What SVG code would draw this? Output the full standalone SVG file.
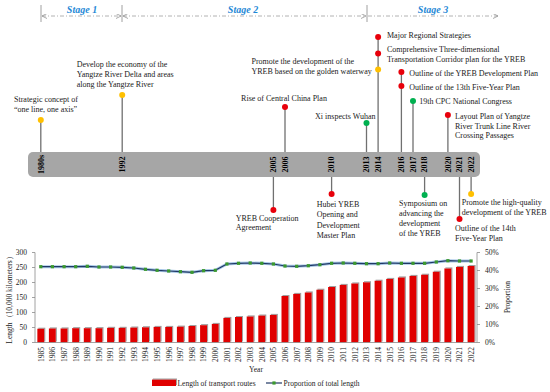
<svg xmlns="http://www.w3.org/2000/svg" xmlns:xlink="http://www.w3.org/1999/xlink" width="550" height="392" viewBox="0 0 550 392">
<style>
.lbl{font-family:"Liberation Serif","Times New Roman",serif;font-size:8px;fill:#1a1a1a}
.yr{font-family:"Liberation Serif","Times New Roman",serif;font-size:8px;font-weight:bold;fill:#000;text-anchor:middle}
.stage{font-family:"Liberation Serif","Times New Roman",serif;font-size:10px;font-weight:bold;font-style:italic;fill:#1e88d6;text-anchor:middle}
.stem{stroke:#707070;stroke-width:1.3}
.red{fill:#e8000b}.yel{fill:#ffc000}.grn{fill:#00b050}
.dash{stroke:#a0a0a0;stroke-width:0.8;stroke-dasharray:4 2 1 2;fill:none}
.tick{stroke:#a0a0a0;stroke-width:1}
.ax{stroke:#8c8c8c;stroke-width:0.8;fill:none}
.tl{font-family:"Liberation Serif","Times New Roman",serif;font-size:7.5px;fill:#222}
.xl{font-family:"Liberation Serif","Times New Roman",serif;font-size:7.5px;fill:#222;text-anchor:end}
.bar{fill:#e00000}
</style>
<defs>
<marker id="ah" viewBox="0 0 6 6" refX="6" refY="3" markerUnits="userSpaceOnUse" markerWidth="5" markerHeight="5" orient="auto-start-reverse"><path d="M0,0 L6,3 L0,6" fill="none" stroke="#999" stroke-width="1"/></marker>
<filter id="sh" x="-20%" y="-20%" width="140%" height="140%"><feFlood flood-color="#a0a0a0"/><feComposite in2="SourceAlpha" operator="in"/><feOffset dx="0.9" dy="-0.9"/><feMerge><feMergeNode/><feMergeNode in="SourceGraphic"/></feMerge></filter>
<rect id="mk" x="-1.6" y="-1.6" width="3.2" height="3.2" fill="#3c9a2e"/>
</defs>
<rect width="550" height="392" fill="#fff"/>

<!-- Stages -->
<g id="stages">
<line class="tick" x1="41" y1="5" x2="41" y2="22"/>
<line class="tick" x1="122" y1="5" x2="122" y2="22"/>
<line class="tick" x1="367" y1="5" x2="367" y2="22"/>
<line class="dash" x1="42" y1="16" x2="121" y2="16" marker-start="url(#ah)" marker-end="url(#ah)"/>
<line class="dash" x1="123" y1="16" x2="366" y2="16" marker-start="url(#ah)" marker-end="url(#ah)"/>
<line class="dash" x1="368" y1="16" x2="498" y2="16" marker-end="url(#ah)"/>
<text class="stage" x="82" y="13">Stage 1</text>
<text class="stage" x="243" y="13">Stage 2</text>
<text class="stage" x="433" y="12.5">Stage 3</text>
</g>

<!-- Timeline bar -->
<g id="timeline">
<rect x="28" y="152" width="452" height="25" rx="5" fill="#a6a6a6"/>
<text class="yr" transform="translate(43.6,164.5) rotate(-90)">1980s</text>
<text class="yr" transform="translate(125,164.5) rotate(-90)">1992</text>
<text class="yr" transform="translate(276.2,164.5) rotate(-90)">2005</text>
<text class="yr" transform="translate(287.8,164.5) rotate(-90)">2006</text>
<text class="yr" transform="translate(334.4,164.5) rotate(-90)">2010</text>
<text class="yr" transform="translate(369.3,164.5) rotate(-90)">2013</text>
<text class="yr" transform="translate(380.9,164.5) rotate(-90)">2014</text>
<text class="yr" transform="translate(404.2,164.5) rotate(-90)">2016</text>
<text class="yr" transform="translate(415.8,164.5) rotate(-90)">2017</text>
<text class="yr" transform="translate(427.4,164.5) rotate(-90)">2018</text>
<text class="yr" transform="translate(450.7,164.5) rotate(-90)">2020</text>
<text class="yr" transform="translate(462.3,164.5) rotate(-90)">2021</text>
<text class="yr" transform="translate(473.9,164.5) rotate(-90)">2022</text>
</g>

<!-- Connectors (stems) -->
<g id="connectors">
<line class="stem" x1="40.8" y1="120" x2="40.8" y2="152"/>
<line class="stem" x1="122.2" y1="95" x2="122.2" y2="152"/>
<line class="stem" x1="273.4" y1="177" x2="273.4" y2="210"/>
<line class="stem" x1="285" y1="107" x2="285" y2="152"/>
<line class="stem" x1="331.6" y1="177" x2="331.6" y2="194"/>
<line class="stem" x1="366.5" y1="123" x2="366.5" y2="152"/>
<line class="stem" x1="378.1" y1="37" x2="378.1" y2="152"/>
<line class="stem" x1="401.4" y1="72" x2="401.4" y2="152"/>
<line class="stem" x1="413" y1="101" x2="413" y2="152"/>
<line class="stem" x1="424.6" y1="177" x2="424.6" y2="195"/>
<line class="stem" x1="447.9" y1="115" x2="447.9" y2="152"/>
<line class="stem" x1="459.5" y1="177" x2="459.5" y2="219"/>
<line class="stem" x1="471.1" y1="177" x2="471.1" y2="194"/>
</g>

<!-- Events -->
<g id="ev-1980s"><circle class="yel" cx="40.8" cy="120" r="3"/>
<text class="lbl" x="14" y="102">Strategic concept of</text><text class="lbl" x="14" y="111.5">“one line, one axis”</text></g>
<g id="ev-1992"><circle class="yel" cx="122.2" cy="95" r="3"/>
<text class="lbl" x="76.7" y="67">Develop the economy of the</text><text class="lbl" x="76.7" y="77">Yangtze River Delta and areas</text><text class="lbl" x="76.7" y="87">along the Yangtze River</text></g>
<g id="ev-2005"><circle class="red" cx="273.4" cy="210" r="3"/>
<text class="lbl" x="235.7" y="220.7">YREB Cooperation</text><text class="lbl" x="235.7" y="230.3">Agreement</text></g>
<g id="ev-2006"><circle class="red" cx="285" cy="107" r="3"/>
<text class="lbl" x="284" y="101" text-anchor="middle">Rise of Central China Plan</text></g>
<g id="ev-2010"><circle class="red" cx="331.6" cy="194" r="3"/>
<text class="lbl" x="316.7" y="207">Hubei YREB</text><text class="lbl" x="316.7" y="217.3">Opening and</text><text class="lbl" x="316.7" y="227.7">Development</text><text class="lbl" x="316.7" y="238">Master Plan</text></g>
<g id="ev-2013"><circle class="grn" cx="366.5" cy="123" r="3"/>
<text class="lbl" x="375.5" y="119" text-anchor="end">Xi inspects Wuhan</text></g>
<g id="ev-2014-a"><circle class="red" cx="378.1" cy="37" r="3"/>
<text class="lbl" x="387" y="38">Major Regional Strategies</text></g>
<g id="ev-2014-b"><circle class="red" cx="378.1" cy="53.5" r="3"/>
<text class="lbl" x="387" y="52">Comprehensive Three-dimensional</text><text class="lbl" x="387" y="62">Transportation Corridor plan for the YREB</text></g>
<g id="ev-2014-c"><circle class="yel" cx="378.1" cy="69.5" r="3"/>
<text class="lbl" x="251.5" y="64">Promote the development of the</text><text class="lbl" x="251.5" y="74">YREB based on the golden waterway</text></g>
<g id="ev-2016-a"><circle class="red" cx="401.4" cy="72" r="3"/>
<text class="lbl" x="409.3" y="75.5">Outline of the YREB Development Plan</text></g>
<g id="ev-2016-b"><circle class="red" cx="401.4" cy="86" r="3"/>
<text class="lbl" x="409.3" y="90">Outline of the 13th Five-Year Plan</text></g>
<g id="ev-2017"><circle class="grn" cx="413" cy="101" r="3"/>
<text class="lbl" x="419.3" y="104">19th CPC National Congress</text></g>
<g id="ev-2018"><circle class="grn" cx="424.6" cy="195" r="3"/>
<text class="lbl" x="399" y="205.7">Symposium on</text><text class="lbl" x="399" y="216">advancing the</text><text class="lbl" x="399" y="226.3">development</text><text class="lbl" x="399" y="235.7">of the YREB</text></g>
<g id="ev-2020"><circle class="red" cx="447.9" cy="115" r="3"/>
<text class="lbl" x="455" y="119">Layout Plan of Yangtze</text><text class="lbl" x="455" y="128.5">River Trunk Line River</text><text class="lbl" x="455" y="138">Crossing Passages</text></g>
<g id="ev-2021"><circle class="red" cx="459.5" cy="219" r="3"/>
<text class="lbl" x="455" y="231.3">Outline of the 14th</text><text class="lbl" x="455" y="241.3">Five-Year Plan</text></g>
<g id="ev-2022"><circle class="yel" cx="471.1" cy="194" r="3"/>
<text class="lbl" x="461.7" y="204.7">Promote the high-quality</text><text class="lbl" x="461.7" y="214.7">development of the YREB</text></g>

<!-- Chart -->
<g id="chart">
<g filter="url(#sh)">
<rect class="bar" x="37.3" y="328.7" width="7" height="13.8"/>
<rect class="bar" x="48.9" y="328.4" width="7" height="14.1"/>
<rect class="bar" x="60.6" y="328.4" width="7" height="14.1"/>
<rect class="bar" x="72.2" y="328.1" width="7" height="14.4"/>
<rect class="bar" x="83.8" y="328.1" width="7" height="14.4"/>
<rect class="bar" x="95.5" y="328.1" width="7" height="14.4"/>
<rect class="bar" x="107.1" y="327.8" width="7" height="14.7"/>
<rect class="bar" x="118.7" y="327.8" width="7" height="14.7"/>
<rect class="bar" x="130.3" y="327.5" width="7" height="15"/>
<rect class="bar" x="142" y="327.2" width="7" height="15.3"/>
<rect class="bar" x="153.6" y="326.9" width="7" height="15.6"/>
<rect class="bar" x="165.2" y="326.9" width="7" height="15.6"/>
<rect class="bar" x="176.9" y="326.6" width="7" height="15.9"/>
<rect class="bar" x="188.5" y="326" width="7" height="16.5"/>
<rect class="bar" x="200.1" y="325.1" width="7" height="17.4"/>
<rect class="bar" x="211.8" y="323.9" width="7" height="18.6"/>
<rect class="bar" x="223.4" y="317.9" width="7" height="24.6"/>
<rect class="bar" x="235" y="317" width="7" height="25.5"/>
<rect class="bar" x="246.7" y="316.4" width="7" height="26.1"/>
<rect class="bar" x="258.3" y="315.5" width="7" height="27"/>
<rect class="bar" x="269.9" y="314.9" width="7" height="27.6"/>
<rect class="bar" x="281.5" y="296" width="7" height="46.5"/>
<rect class="bar" x="293.2" y="293.9" width="7" height="48.6"/>
<rect class="bar" x="304.8" y="292.4" width="7" height="50.1"/>
<rect class="bar" x="316.4" y="289.7" width="7" height="52.8"/>
<rect class="bar" x="328.1" y="287" width="7" height="55.5"/>
<rect class="bar" x="339.7" y="284.9" width="7" height="57.6"/>
<rect class="bar" x="351.3" y="283.4" width="7" height="59.1"/>
<rect class="bar" x="363" y="282.2" width="7" height="60.3"/>
<rect class="bar" x="374.6" y="280.7" width="7" height="61.8"/>
<rect class="bar" x="386.2" y="278.9" width="7" height="63.6"/>
<rect class="bar" x="397.9" y="277.4" width="7" height="65.1"/>
<rect class="bar" x="409.5" y="275.9" width="7" height="66.6"/>
<rect class="bar" x="421.1" y="274.7" width="7" height="67.8"/>
<rect class="bar" x="432.8" y="271.7" width="7" height="70.8"/>
<rect class="bar" x="444.4" y="268.4" width="7" height="74.1"/>
<rect class="bar" x="456" y="266.9" width="7" height="75.6"/>
<rect class="bar" x="467.6" y="266" width="7" height="76.5"/>
</g>
<!-- axes -->
<path class="ax" d="M35,252.5 V342.5 H477 V252.5"/>
<path class="ax" d="M32,252.5H35M32,267.5H35M32,282.5H35M32,297.5H35M32,312.5H35M32,327.5H35M32,342.5H35"/>
<path class="ax" d="M477,252.5H480M477,270.5H480M477,288.5H480M477,306.5H480M477,324.5H480M477,342.5H480"/>
<g class="tl" text-anchor="end">
<text x="27" y="255">300</text><text x="27" y="270">250</text><text x="27" y="285">200</text><text x="27" y="300">150</text><text x="27" y="315">100</text><text x="27" y="330">50</text><text x="27" y="345">0</text>
</g>
<g class="tl">
<text x="485" y="255">50%</text><text x="485" y="273">40%</text><text x="485" y="291">30%</text><text x="485" y="309">20%</text><text x="485" y="327">10%</text><text x="485" y="345">0%</text>
</g>
<!-- line -->
<polyline fill="none" stroke="#a9c8e8" stroke-width="3" stroke-linejoin="round" points="40.8,266.7 52.4,266.7 64.1,266.7 75.7,266.7 87.3,266.3 99,267 110.6,267 122.2,267.3 133.8,268 145.5,269.3 157.1,270.3 168.7,271 180.4,271.7 192,272.3 203.6,270.7 215.3,270.3 226.9,264 238.5,263.3 250.2,263 261.8,263.3 273.4,264 285,266 296.7,266.3 308.3,265.7 319.9,264.7 331.6,263.3 343.2,263 354.8,263.3 366.5,263.7 378.1,263.7 389.7,263 401.4,263.3 413,263.3 424.6,263.3 436.3,262 447.9,260.7 459.5,261 471.1,261"/>
<polyline fill="none" stroke="#203864" stroke-width="1.2" stroke-linejoin="round" points="40.8,266.7 52.4,266.7 64.1,266.7 75.7,266.7 87.3,266.3 99,267 110.6,267 122.2,267.3 133.8,268 145.5,269.3 157.1,270.3 168.7,271 180.4,271.7 192,272.3 203.6,270.7 215.3,270.3 226.9,264 238.5,263.3 250.2,263 261.8,263.3 273.4,264 285,266 296.7,266.3 308.3,265.7 319.9,264.7 331.6,263.3 343.2,263 354.8,263.3 366.5,263.7 378.1,263.7 389.7,263 401.4,263.3 413,263.3 424.6,263.3 436.3,262 447.9,260.7 459.5,261 471.1,261"/>
<g>
<use href="#mk" x="40.8" y="266.7"/><use href="#mk" x="52.4" y="266.7"/><use href="#mk" x="64.1" y="266.7"/><use href="#mk" x="75.7" y="266.7"/><use href="#mk" x="87.3" y="266.3"/><use href="#mk" x="99" y="267"/><use href="#mk" x="110.6" y="267"/><use href="#mk" x="122.2" y="267.3"/><use href="#mk" x="133.8" y="268"/><use href="#mk" x="145.5" y="269.3"/><use href="#mk" x="157.1" y="270.3"/><use href="#mk" x="168.7" y="271"/><use href="#mk" x="180.4" y="271.7"/><use href="#mk" x="192" y="272.3"/><use href="#mk" x="203.6" y="270.7"/><use href="#mk" x="215.3" y="270.3"/><use href="#mk" x="226.9" y="264"/><use href="#mk" x="238.5" y="263.3"/><use href="#mk" x="250.2" y="263"/><use href="#mk" x="261.8" y="263.3"/><use href="#mk" x="273.4" y="264"/><use href="#mk" x="285" y="266"/><use href="#mk" x="296.7" y="266.3"/><use href="#mk" x="308.3" y="265.7"/><use href="#mk" x="319.9" y="264.7"/><use href="#mk" x="331.6" y="263.3"/><use href="#mk" x="343.2" y="263"/><use href="#mk" x="354.8" y="263.3"/><use href="#mk" x="366.5" y="263.7"/><use href="#mk" x="378.1" y="263.7"/><use href="#mk" x="389.7" y="263"/><use href="#mk" x="401.4" y="263.3"/><use href="#mk" x="413" y="263.3"/><use href="#mk" x="424.6" y="263.3"/><use href="#mk" x="436.3" y="262"/><use href="#mk" x="447.9" y="260.7"/><use href="#mk" x="459.5" y="261"/><use href="#mk" x="471.1" y="261"/>
</g>
<!-- x labels -->
<g class="xl">
<text transform="translate(43.6,347) rotate(-90)">1985</text>
<text transform="translate(55.2,347) rotate(-90)">1986</text>
<text transform="translate(66.9,347) rotate(-90)">1987</text>
<text transform="translate(78.5,347) rotate(-90)">1988</text>
<text transform="translate(90.1,347) rotate(-90)">1989</text>
<text transform="translate(101.8,347) rotate(-90)">1990</text>
<text transform="translate(113.4,347) rotate(-90)">1991</text>
<text transform="translate(125,347) rotate(-90)">1992</text>
<text transform="translate(136.6,347) rotate(-90)">1993</text>
<text transform="translate(148.3,347) rotate(-90)">1994</text>
<text transform="translate(159.9,347) rotate(-90)">1995</text>
<text transform="translate(171.5,347) rotate(-90)">1996</text>
<text transform="translate(183.2,347) rotate(-90)">1997</text>
<text transform="translate(194.8,347) rotate(-90)">1998</text>
<text transform="translate(206.4,347) rotate(-90)">1999</text>
<text transform="translate(218.1,347) rotate(-90)">2000</text>
<text transform="translate(229.7,347) rotate(-90)">2001</text>
<text transform="translate(241.3,347) rotate(-90)">2002</text>
<text transform="translate(253,347) rotate(-90)">2003</text>
<text transform="translate(264.6,347) rotate(-90)">2004</text>
<text transform="translate(276.2,347) rotate(-90)">2005</text>
<text transform="translate(287.8,347) rotate(-90)">2006</text>
<text transform="translate(299.5,347) rotate(-90)">2007</text>
<text transform="translate(311.1,347) rotate(-90)">2008</text>
<text transform="translate(322.7,347) rotate(-90)">2009</text>
<text transform="translate(334.4,347) rotate(-90)">2010</text>
<text transform="translate(346,347) rotate(-90)">2011</text>
<text transform="translate(357.6,347) rotate(-90)">2012</text>
<text transform="translate(369.3,347) rotate(-90)">2013</text>
<text transform="translate(380.9,347) rotate(-90)">2014</text>
<text transform="translate(392.5,347) rotate(-90)">2015</text>
<text transform="translate(404.2,347) rotate(-90)">2016</text>
<text transform="translate(415.8,347) rotate(-90)">2017</text>
<text transform="translate(427.4,347) rotate(-90)">2018</text>
<text transform="translate(439.1,347) rotate(-90)">2019</text>
<text transform="translate(450.7,347) rotate(-90)">2020</text>
<text transform="translate(462.3,347) rotate(-90)">2021</text>
<text transform="translate(473.9,347) rotate(-90)">2022</text>
</g>
<text class="tl" transform="translate(12,298) rotate(-90)" text-anchor="middle" font-size="8">Length（10,000 kilometers）</text>
<text class="tl" transform="translate(510,297) rotate(-90)" text-anchor="middle" font-size="8">Proportion</text>
<text class="tl" x="256" y="372" text-anchor="middle" font-size="8">Year</text>
<!-- legend -->
<rect class="bar" x="152" y="379.5" width="24" height="6.5" filter="url(#sh)"/>
<text class="tl" x="177.5" y="386">Length of transport routes</text>
<line x1="266" y1="383" x2="282" y2="383" stroke="#203864" stroke-width="1.2"/>
<use href="#mk" x="274" y="383"/>
<text class="tl" x="283.5" y="386">Proportion of total length</text>
</g>
</svg>
